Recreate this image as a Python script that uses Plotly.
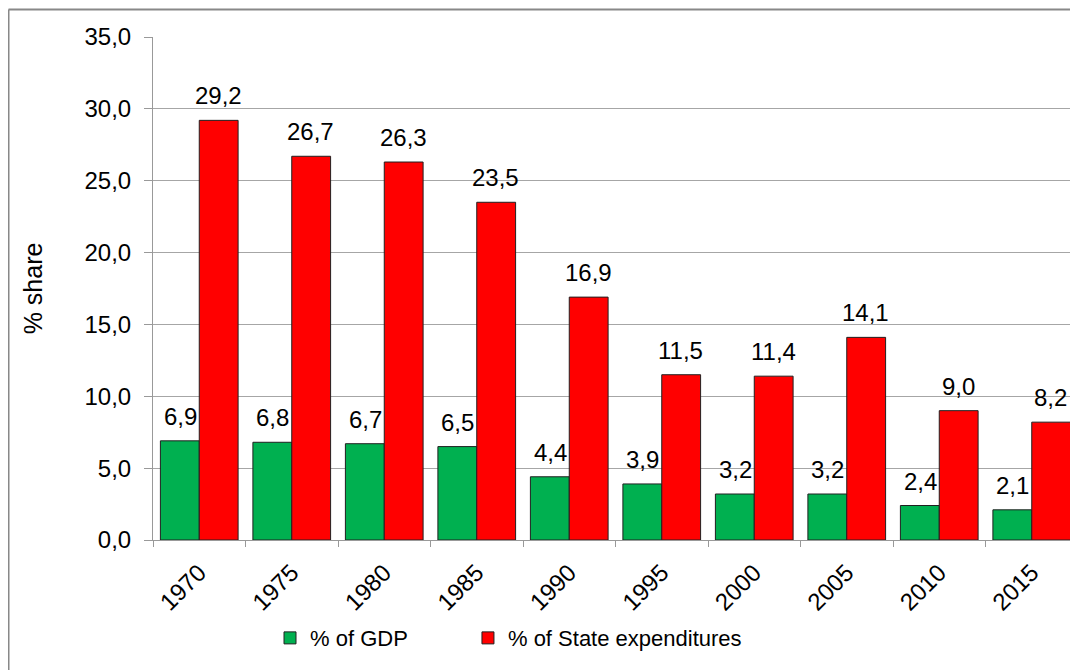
import plotly.graph_objects as go

years = ['1970', '1975', '1980', '1985', '1990', '1995', '2000', '2005', '2010', '2015']
gdp_share = [6.9, 6.8, 6.7, 6.5, 4.4, 3.9, 3.2, 3.2, 2.4, 2.1]
state_share = [29.2, 26.7, 26.3, 23.5, 16.9, 11.5, 11.4, 14.1, 9.0, 8.2]

font = 'Liberation Sans, Arial, sans-serif'

fig = go.Figure()
fig.add_trace(go.Bar(
    x=years, y=gdp_share, name='% of GDP', legend='legend',
    marker=dict(color='#00B050', line=dict(color='#202020', width=1)),
))
fig.add_trace(go.Bar(
    x=years, y=state_share, name='% of State expenditures', legend='legend2',
    marker=dict(color='#FF0000', line=dict(color='#202020', width=1)),
))

# value labels above the bars (bars sit a quarter category left/right of centre)
# x is given as the category index, since the year strings read as numbers
shift = 19
for i, (g, s) in enumerate(zip(gdp_share, state_share)):
    fig.add_annotation(x=i, y=g, text=f'{g:.1f}'.replace('.', ','), showarrow=False,
                       xshift=-shift, yshift=9, yanchor='bottom', font=dict(size=24))
    fig.add_annotation(x=i, y=s, text=f'{s:.1f}'.replace('.', ','), showarrow=False,
                       xshift=shift, yshift=9, yanchor='bottom', font=dict(size=24))

# outer chart border (runs off the right and bottom of the picture)
fig.add_shape(type='line', xref='paper', yref='paper',
              x0=-0.1562, y0=1.0547, x1=1.05, y1=1.0547,
              line=dict(color='#888888', width=2))
fig.add_shape(type='line', xref='paper', yref='paper',
              x0=-0.1562, y0=1.0547, x1=-0.1562, y1=-0.3,
              line=dict(color='#888888', width=2))

fig.update_layout(
    width=1070, height=662,
    margin=dict(l=145, r=0, t=29, b=130),
    paper_bgcolor='white', plot_bgcolor='white',
    separators=',.',
    barmode='group', bargap=0.16, bargroupgap=0,
    font=dict(family=font, size=22, color='black'),
    showlegend=True,
    legend=dict(orientation='h', x=0.1265, xanchor='left', y=-0.195, yanchor='middle',
                font=dict(size=22), bgcolor='rgba(0,0,0,0)'),
    legend2=dict(orientation='h', x=0.3405, xanchor='left', y=-0.195, yanchor='middle',
                 font=dict(size=22), bgcolor='rgba(0,0,0,0)'),
)
fig.update_xaxes(
    type='category', tickangle=-45, tickson='boundaries',
    ticks='outside', ticklen=6, tickcolor='#999999', ticklabelstandoff=8,
    showline=True, linecolor='#999999', linewidth=1,
    tickfont=dict(size=24), showgrid=False
)
fig.update_yaxes(
    range=[0, 35], dtick=5, tickformat='.1f',
    ticks='outside', ticklen=8, tickcolor='#999999', ticklabelstandoff=8,
    showline=True, linecolor='#999999', linewidth=1,
    showgrid=True, gridcolor='#A6A6A6', gridwidth=1,
    zeroline=False, tickfont=dict(size=24),
    title=dict(text='% share', font=dict(size=25), standoff=34)
)

fig.write_html('out.html')
